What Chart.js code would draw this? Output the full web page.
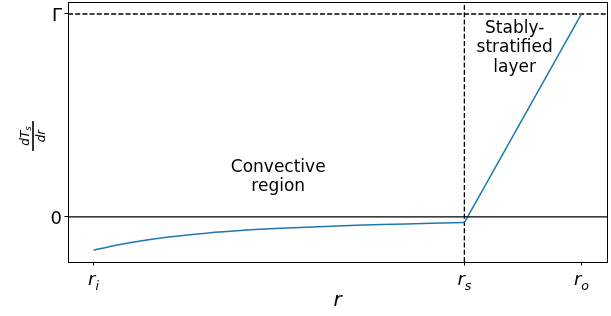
<!DOCTYPE html>
<html>
<head>
<meta charset="utf-8">
<script src="https://cdn.jsdelivr.net/npm/chart.js@4"></script>
<style>
  body { margin: 0; background: #fff; }
</style>
</head>
<body>
<canvas id="gradChart" width="611" height="316"></canvas>
<script>
// convective region: dT_s/dr (Gamma = 1)
const convR    = [0.35, 0.375, 0.40, 0.45, 0.50, 0.55, 0.60, 0.65, 0.70, 0.75, 0.80, 0.844];
const convGrad = [-0.164, -0.143, -0.126, -0.099, -0.080, -0.066, -0.056, -0.048, -0.041, -0.036, -0.031, -0.028];

// stably-stratified layer: straight line up to Gamma at r_o
const layerR    = [0.844, 1.0];
const layerGrad = [-0.028, 1.0];

const rI = 0.35, rS = 0.844, rO = 1.0;
const gammaVal = 1.0;

const xTickValues = [rI, rS, rO];
const xTickBase   = ['r', 'r', 'r'];
const xTickSub    = ['i', 's', 'o'];
const yTickValues = [0, gammaVal];
const yTickLabels = ['0', 'Γ'];

const convLabel  = ['Convective', 'region'];
const layerLabel = ['Stably-', 'stratified', 'layer'];

const xMin = 0.316, xMax = 1.034;
const yMin = -0.222, yMax = 1.059;

const pts = (xs, ys) => xs.map((v, i) => ({x: v, y: ys[i]}));

// text, frame and fraction label drawn by hand
const drawText = {
  id: 'drawText',
  afterDatasetsDraw(chart) {
    const {ctx, chartArea: a, scales: {x, y}} = chart;
    ctx.save();
    ctx.strokeStyle = '#000';
    ctx.lineWidth = 1;
    ctx.strokeRect(a.left + 0.5, a.top + 0.5, a.right - a.left, a.bottom - a.top);

    ctx.fillStyle = '#000';
    ctx.textBaseline = 'alphabetic';

    // x tick labels r_i, r_s, r_o
    for (let i = 0; i < xTickValues.length; i++) {
      const px = x.getPixelForValue(xTickValues[i]);
      ctx.font = 'italic 18px "DejaVu Sans"';
      const wb = ctx.measureText(xTickBase[i]).width;
      ctx.font = 'italic 12.6px "DejaVu Sans"';
      const ws = ctx.measureText(xTickSub[i]).width;
      const start = px - (wb + ws) / 2;
      ctx.textAlign = 'left';
      ctx.font = 'italic 18px "DejaVu Sans"';
      ctx.fillText(xTickBase[i], start, 285);
      ctx.font = 'italic 12.6px "DejaVu Sans"';
      ctx.fillText(xTickSub[i], start + wb, 289.5);
    }

    // y tick labels
    ctx.font = '18px "DejaVu Sans"';
    ctx.textAlign = 'right';
    for (let i = 0; i < yTickValues.length; i++) {
      ctx.fillText(yTickLabels[i], a.left - 6, y.getPixelForValue(yTickValues[i]) + 7);
    }

    // x axis label
    ctx.font = 'italic 20px "DejaVu Sans"';
    ctx.textAlign = 'center';
    ctx.fillText('r', (a.left + a.right) / 2, 306);

    // annotations
    ctx.font = '17px "DejaVu Sans"';
    let cx = x.getPixelForValue(0.596), cy = y.getPixelForValue(0.221);
    convLabel.forEach((t, i) => ctx.fillText(t, cx, cy + i * 19.2));
    cx = x.getPixelForValue(0.911); cy = y.getPixelForValue(0.907);
    layerLabel.forEach((t, i) => ctx.fillText(t, cx, cy + i * 19.6));

    // y axis label: dT_s / dr, rotated
    ctx.translate(33, (a.top + a.bottom) / 2 + 4);
    ctx.rotate(-Math.PI / 2);
    ctx.fillRect(-15, -0.8, 30, 1.6);
    ctx.font = 'italic 12px "DejaVu Sans"';
    const wn = ctx.measureText('dT').width;
    ctx.font = 'italic 8.5px "DejaVu Sans"';
    const wsub = ctx.measureText('s').width;
    ctx.textAlign = 'left';
    ctx.font = 'italic 12px "DejaVu Sans"';
    ctx.fillText('dT', -(wn + wsub) / 2, -4.5);
    ctx.font = 'italic 8.5px "DejaVu Sans"';
    ctx.fillText('s', -(wn + wsub) / 2 + wn, -2.5);
    ctx.font = 'italic 12px "DejaVu Sans"';
    ctx.textAlign = 'center';
    ctx.fillText('dr', 0, 11.5);
    ctx.restore();
  }
};

const canvasElement = document.getElementById('gradChart');
const config = {
  type: 'scatter',
  data: {
    datasets: [
      {
        data: pts([xMin, xMax], [0, 0]),
        showLine: true, borderColor: '#000', borderWidth: 1.3, pointRadius: 0
      },
      {
        data: pts(convR, convGrad),
        showLine: true, borderColor: '#1f77b4', borderWidth: 1.5, pointRadius: 0,
        cubicInterpolationMode: 'monotone'
      },
      {
        data: pts(layerR, layerGrad),
        showLine: true, borderColor: '#1f77b4', borderWidth: 1.5, pointRadius: 0
      },
      {
        data: pts([xMin, xMax], [gammaVal, gammaVal]),
        showLine: true, borderColor: '#000', borderWidth: 1.3, borderDash: [5, 2.2], pointRadius: 0
      },
      {
        data: pts([rS, rS], [yMin, yMax]),
        showLine: true, borderColor: '#000', borderWidth: 1.3, borderDash: [5, 2.2], pointRadius: 0
      }
    ]
  },
  options: {
    responsive: false,
    animation: false,
    events: [],
    layout: { padding: { top: 2, right: 4, left: 0, bottom: 0 } },
    plugins: { legend: { display: false }, tooltip: { enabled: false } },
    scales: {
      x: {
        type: 'linear', min: xMin, max: xMax,
        border: { display: false },
        grid: { drawOnChartArea: false, drawTicks: true, tickLength: 3.5, color: '#000', lineWidth: 1 },
        ticks: { display: false },
        afterBuildTicks: s => { s.ticks = xTickValues.map(v => ({value: v})); },
        afterFit: s => { s.height = 54; }
      },
      y: {
        type: 'linear', min: yMin, max: yMax,
        border: { display: false },
        grid: { drawOnChartArea: false, drawTicks: true, tickLength: 3.5, color: '#000', lineWidth: 1 },
        ticks: { display: false },
        afterBuildTicks: s => { s.ticks = yTickValues.map(v => ({value: v})); },
        afterFit: s => { s.width = 68; }
      }
    }
  },
  plugins: [drawText]
};

const gradChart = new Chart(canvasElement, config);
</script>
</body>
</html>
